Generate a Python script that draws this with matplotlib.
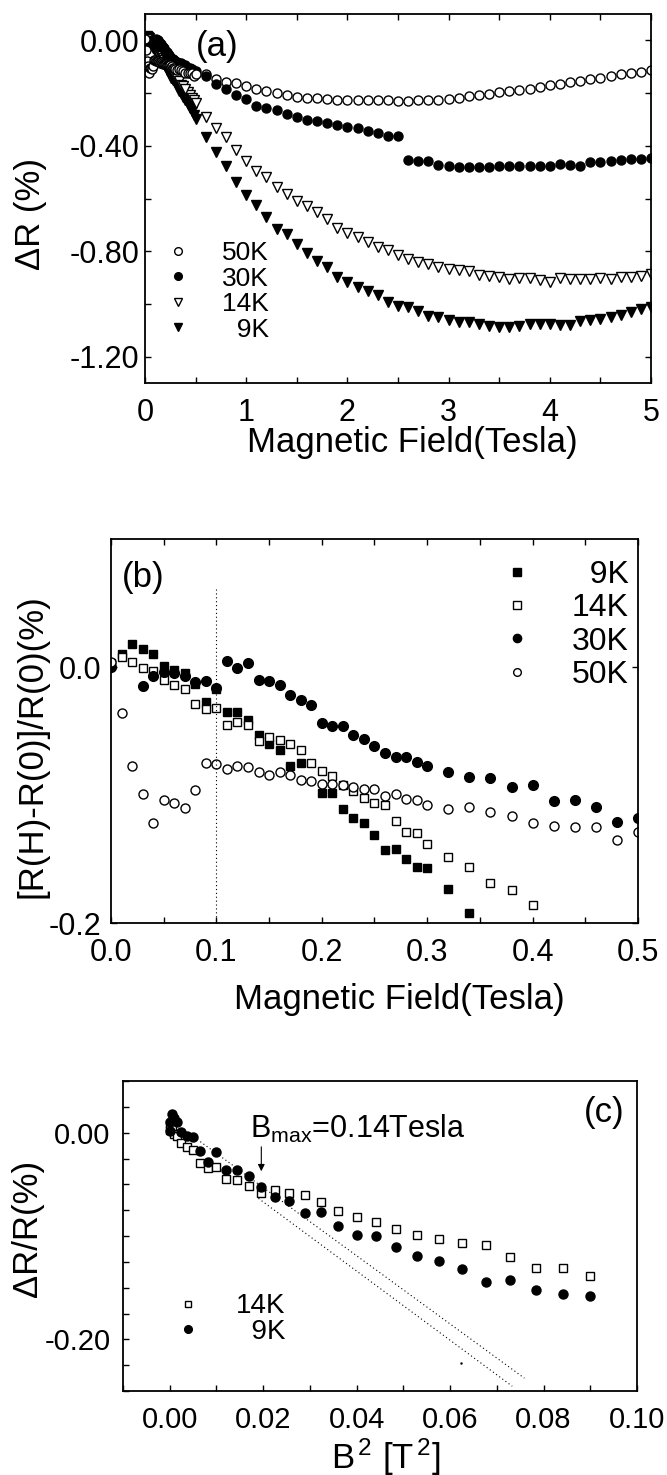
import matplotlib
matplotlib.use("Agg")
import matplotlib.pyplot as plt
from matplotlib.ticker import MultipleLocator, FixedLocator, FormatStrFormatter

plt.rcParams["font.family"] = ["Liberation Sans", "DejaVu Sans"]
plt.rcParams["axes.unicode_minus"] = False
plt.rcParams["mathtext.fontset"] = "custom"
plt.rcParams["mathtext.rm"] = "Liberation Sans"
plt.rcParams["mathtext.it"] = "Liberation Sans:italic"
plt.rcParams["mathtext.bf"] = "Liberation Sans:bold"

# ---------------------------------------------------------------------------
# Panel (b): low-field data, delta R / R(0) in %
# ---------------------------------------------------------------------------
b_9k_B = [0.00, 0.01, 0.02, 0.03, 0.04, 0.05, 0.06, 0.07, 0.08, 0.09, 0.10,
          0.11, 0.12, 0.13, 0.14, 0.15, 0.16, 0.17, 0.18, 0.20, 0.21, 0.22,
          0.23, 0.24, 0.25, 0.26, 0.27, 0.28, 0.29, 0.30, 0.32, 0.34]
b_9k = [0.002, 0.010, 0.018, 0.014, 0.010, 0.001, -0.002, -0.005, -0.013,
        -0.027, -0.017, -0.035, -0.035, -0.041, -0.053, -0.060, -0.065,
        -0.077, -0.075, -0.098, -0.098, -0.111, -0.118, -0.122, -0.131,
        -0.143, -0.142, -0.150, -0.156, -0.157, -0.173, -0.192]

b_14k_B = [0.00, 0.01, 0.02, 0.03, 0.04, 0.05, 0.06, 0.07, 0.08, 0.09, 0.10,
           0.11, 0.12, 0.13, 0.14, 0.15, 0.16, 0.17, 0.18, 0.19, 0.20, 0.21,
           0.22, 0.23, 0.24, 0.25, 0.26, 0.27, 0.28, 0.29, 0.30, 0.32, 0.34,
           0.36, 0.38, 0.40]
b_14k = [0.003, 0.008, 0.004, -0.001, -0.003, -0.010, -0.014, -0.017, -0.029,
         -0.033, -0.032, -0.045, -0.043, -0.045, -0.058, -0.055, -0.057,
         -0.060, -0.065, -0.075, -0.081, -0.085, -0.092, -0.097, -0.102,
         -0.106, -0.108, -0.120, -0.129, -0.130, -0.138, -0.148, -0.156,
         -0.169, -0.174, -0.186]

b_30k_B = [0.00, 0.03, 0.04, 0.05, 0.06, 0.07, 0.08, 0.09, 0.10, 0.11, 0.12,
           0.13, 0.14, 0.15, 0.16, 0.17, 0.18, 0.19, 0.20, 0.21, 0.22, 0.23,
           0.24, 0.25, 0.26, 0.27, 0.28, 0.29, 0.30, 0.32, 0.34, 0.36, 0.38,
           0.40, 0.42, 0.44, 0.46, 0.48, 0.50]
b_30k = [0.000, -0.015, -0.007, -0.004, -0.005, -0.007, -0.012, -0.011,
         -0.016, 0.005, -0.001, 0.003, -0.010, -0.011, -0.014, -0.022, -0.026,
         -0.030, -0.044, -0.046, -0.046, -0.053, -0.056, -0.062, -0.067,
         -0.070, -0.070, -0.074, -0.077, -0.082, -0.086, -0.087, -0.094,
         -0.092, -0.105, -0.104, -0.109, -0.121, -0.118]

b_50k_B = [0.00, 0.01, 0.02, 0.03, 0.04, 0.05, 0.06, 0.07, 0.08, 0.09, 0.10,
           0.11, 0.12, 0.13, 0.14, 0.15, 0.16, 0.17, 0.18, 0.19, 0.20, 0.21,
           0.22, 0.23, 0.24, 0.25, 0.26, 0.27, 0.28, 0.29, 0.30, 0.32, 0.34,
           0.36, 0.38, 0.40, 0.42, 0.44, 0.46, 0.48, 0.50]
b_50k = [0.004, -0.036, -0.077, -0.099, -0.122, -0.104, -0.106, -0.110,
         -0.096, -0.075, -0.076, -0.080, -0.077, -0.078, -0.082, -0.084,
         -0.082, -0.084, -0.088, -0.089, -0.091, -0.091, -0.092, -0.094,
         -0.095, -0.095, -0.101, -0.099, -0.103, -0.104, -0.108, -0.111,
         -0.109, -0.113, -0.116, -0.122, -0.124, -0.125, -0.125, -0.135,
         -0.129]

# ---------------------------------------------------------------------------
# Panel (a): high-field part (low-field part is the panel (b) data)
# ---------------------------------------------------------------------------
a_B = [0.6, 0.7, 0.8, 0.9, 1.0, 1.1, 1.2, 1.3, 1.4, 1.5, 1.6, 1.7, 1.8, 1.9,
       2.0, 2.1, 2.2, 2.3, 2.4, 2.5, 2.6, 2.7, 2.8, 2.9, 3.0, 3.1, 3.2, 3.3,
       3.4, 3.5, 3.6, 3.7, 3.8, 3.9, 4.0, 4.1, 4.2, 4.3, 4.4, 4.5, 4.6, 4.7,
       4.8, 4.9, 5.0]
a_50k = [-0.129, -0.147, -0.157, -0.163, -0.172, -0.186, -0.192, -0.200,
         -0.207, -0.213, -0.218, -0.220, -0.223, -0.225, -0.226, -0.226,
         -0.227, -0.228, -0.228, -0.229, -0.229, -0.226, -0.228, -0.226,
         -0.222, -0.218, -0.211, -0.208, -0.204, -0.197, -0.192, -0.189,
         -0.184, -0.177, -0.171, -0.165, -0.159, -0.154, -0.148, -0.142,
         -0.135, -0.129, -0.124, -0.119, -0.111]
a_30k = [-0.135, -0.166, -0.185, -0.208, -0.223, -0.248, -0.257, -0.265,
         -0.280, -0.289, -0.301, -0.305, -0.315, -0.320, -0.327, -0.332,
         -0.342, -0.351, -0.361, -0.361, -0.453, -0.456, -0.458, -0.471,
         -0.477, -0.480, -0.479, -0.480, -0.480, -0.477, -0.476, -0.476,
         -0.476, -0.476, -0.475, -0.470, -0.472, -0.475, -0.463, -0.462,
         -0.459, -0.453, -0.449, -0.449, -0.447]
a_14k_low_B = [0.42, 0.44, 0.46, 0.48, 0.50]
a_14k_low = [-0.196, -0.207, -0.218, -0.228, -0.238]
a_14k = [-0.289, -0.332, -0.367, -0.414, -0.459, -0.494, -0.519, -0.557,
         -0.582, -0.608, -0.627, -0.652, -0.677, -0.711, -0.732, -0.747,
         -0.766, -0.785, -0.797, -0.816, -0.829, -0.842, -0.848, -0.861,
         -0.867, -0.873, -0.876, -0.889, -0.894, -0.899, -0.905, -0.901,
         -0.901, -0.909, -0.918, -0.901, -0.905, -0.905, -0.905, -0.901,
         -0.905, -0.896, -0.896, -0.892, -0.886]
a_9k_low_B = [0.36, 0.38, 0.40, 0.42, 0.44, 0.46, 0.48, 0.50]
a_9k_low = [-0.200, -0.214, -0.228, -0.242, -0.255, -0.268, -0.282, -0.297]
a_9k = [-0.367, -0.424, -0.477, -0.538, -0.586, -0.623, -0.671, -0.715,
        -0.734, -0.772, -0.806, -0.838, -0.861, -0.896, -0.915, -0.937,
        -0.949, -0.966, -0.991, -1.006, -1.013, -1.025, -1.044, -1.051,
        -1.059, -1.070, -1.070, -1.076, -1.082, -1.086, -1.089, -1.082,
        -1.076, -1.076, -1.076, -1.078, -1.078, -1.066, -1.061, -1.057,
        -1.051, -1.041, -1.032, -1.019, -1.010]

# ---------------------------------------------------------------------------
# Panel (c): delta R / R versus B^2
# ---------------------------------------------------------------------------
c_B2 = [0.0, 0.0001, 0.0004, 0.0009, 0.0016, 0.0025, 0.0036, 0.0049, 0.0064,
        0.0081, 0.0100, 0.0121, 0.0144, 0.0169, 0.0196, 0.0225, 0.0256,
        0.0289, 0.0324, 0.0361, 0.0400, 0.0441, 0.0484, 0.0529, 0.0576,
        0.0625, 0.0676, 0.0729, 0.0784, 0.0841, 0.0900]
c_14k = [0.003, 0.008, 0.004, -0.001, -0.003, -0.010, -0.014, -0.017, -0.029,
         -0.034, -0.033, -0.045, -0.046, -0.052, -0.058, -0.055, -0.058,
         -0.060, -0.067, -0.076, -0.082, -0.086, -0.093, -0.099, -0.103,
         -0.107, -0.109, -0.120, -0.131, -0.131, -0.139]
c_9k = [0.002, 0.010, 0.018, 0.014, 0.010, 0.001, -0.003, -0.004, -0.018,
        -0.028, -0.019, -0.036, -0.036, -0.042, -0.053, -0.062, -0.066,
        -0.078, -0.077, -0.090, -0.099, -0.100, -0.111, -0.119, -0.124,
        -0.132, -0.144, -0.143, -0.152, -0.156, -0.158]
fit1_x, fit1_y = [0.0052, 0.0759], [-0.0042, -0.2375]
fit2_x, fit2_y = [0.0190, 0.0733], [-0.0636, -0.2453]
B_MAX = 0.14

TICK_FS = 22
LABEL_FS = 25
DOT = (0, (1, 2.5))
OPEN = dict(mfc="white", mec="k", mew=1, ls="none")
FULL = dict(color="k", ls="none")


def frame(ax, lw=1.3):
    for sp in ax.spines.values():
        sp.set_linewidth(lw)


fig = plt.figure(figsize=(6.67, 14.75), dpi=100)

# ---------------------------------------------------------------------------
# (a)
# ---------------------------------------------------------------------------
ax = fig.add_axes([0.2174, 0.7403, 0.7586, 0.2502])
frame(ax)
ax.plot(a_9k_low_B, a_9k_low, "v", ms=6.5, **FULL)
ax.plot(b_9k_B, b_9k, "v", ms=6.5, **FULL)
ax.plot(a_14k_low_B, a_14k_low, "v", ms=6.5, **OPEN)
ax.plot(b_14k_B, b_14k, "v", ms=6.5, **OPEN)
ax.plot(b_30k_B, b_30k, "o", ms=6.5, **FULL)
ax.plot(b_50k_B, b_50k, "o", ms=6.5, **OPEN)
h50, = ax.plot(a_B, a_50k, "o", ms=6.5, **OPEN)
h30, = ax.plot(a_B, a_30k, "o", ms=6.5, **FULL)
h14, = ax.plot(a_B, a_14k, "v", ms=6.5, **OPEN)
h9, = ax.plot(a_B, a_9k, "v", ms=6.5, **FULL)
ax.set_xlim(0, 5)
ax.set_ylim(-1.30, 0.10)
ax.xaxis.set_major_locator(MultipleLocator(1))
ax.xaxis.set_minor_locator(MultipleLocator(0.5))
ax.yaxis.set_major_locator(MultipleLocator(0.4))
ax.yaxis.set_minor_locator(MultipleLocator(0.2))
ax.yaxis.set_major_formatter(FormatStrFormatter("%.2f"))
ax.tick_params(which="both", direction="in", top=True, right=True,
               length=4, width=1)
ax.tick_params(axis="x", labelsize=TICK_FS, pad=11)
ax.tick_params(axis="y", labelsize=TICK_FS, pad=4)
ax.set_xlabel("Magnetic Field(Tesla)", fontsize=LABEL_FS)
ax.xaxis.set_label_coords(0.528, -0.16)
ax.xaxis.label.set_va("center")
ax.set_ylabel("ΔR (%)", fontsize=LABEL_FS)
ax.yaxis.set_label_coords(-0.227, 0.458)
ax.yaxis.label.set_va("center")
ax.text(0.142, 0.911, "(a)", transform=ax.transAxes, fontsize=25,
        ha="center", va="center")
ax.legend([h50, h30, h14, h9], ["50K", "30K", "14K", "  9K"],
          loc="upper left", bbox_to_anchor=(0.040, 0.385), frameon=False,
          fontsize=19, handlelength=1.0, handletextpad=1.15,
          labelspacing=0.06, borderpad=0, borderaxespad=0, markerscale=0.85)

# ---------------------------------------------------------------------------
# (b)
# ---------------------------------------------------------------------------
ax = fig.add_axes([0.1664, 0.3742, 0.7901, 0.2603])
frame(ax)
k9, = ax.plot(b_9k_B, b_9k, "s", ms=6, **FULL)
k14, = ax.plot(b_14k_B, b_14k, "s", ms=6, **OPEN)
k30, = ax.plot(b_30k_B, b_30k, "o", ms=7, **FULL)
k50, = ax.plot(b_50k_B, b_50k, "o", ms=6.5, **OPEN)
ax.plot([0.1, 0.1], [0.061, -0.2], color="k", lw=0.8, ls=DOT)
ax.set_xlim(0, 0.5)
ax.set_ylim(-0.2, 0.1)
ax.xaxis.set_major_locator(MultipleLocator(0.1))
ax.xaxis.set_minor_locator(MultipleLocator(0.05))
ax.yaxis.set_major_locator(FixedLocator([-0.2, 0.0]))
ax.xaxis.set_major_formatter(FormatStrFormatter("%.1f"))
ax.yaxis.set_major_formatter(FormatStrFormatter("%.1f"))
ax.tick_params(which="both", direction="in", top=True, right=True,
               length=4, width=1)
ax.tick_params(axis="x", labelsize=TICK_FS, pad=11)
ax.tick_params(axis="y", labelsize=TICK_FS, pad=7)
ax.set_xlabel("Magnetic Field(Tesla)", fontsize=LABEL_FS)
ax.xaxis.set_label_coords(0.548, -0.20)
ax.xaxis.label.set_va("center")
ax.set_ylabel("[R(H)-R(0)]/R(0)(%)", fontsize=LABEL_FS)
ax.yaxis.set_label_coords(-0.150, 0.461)
ax.yaxis.label.set_va("center")
ax.text(0.061, 0.901, "(b)", transform=ax.transAxes, fontsize=25,
        ha="center", va="center")
ax.legend([k9, k14, k30, k50], ["  9K", "14K", "30K", "50K"],
          loc="upper left", bbox_to_anchor=(0.741, 0.945), frameon=False,
          fontsize=23, handlelength=1.0, handletextpad=1.2,
          labelspacing=0.1, borderpad=0, borderaxespad=0, markerscale=0.85)

# ---------------------------------------------------------------------------
# (c)
# ---------------------------------------------------------------------------
ax = fig.add_axes([0.1844, 0.0569, 0.7706, 0.2102])
frame(ax)
ax.plot(fit1_x, fit1_y, color="k", lw=0.8, ls=DOT)
ax.plot(fit2_x, fit2_y, color="k", lw=0.8, ls=DOT)
ax.plot([0.0624], [-0.223], ".", color="k", ms=1.5)
m14, = ax.plot(c_B2, c_14k, "s", ms=5.5, **OPEN)
m9, = ax.plot(c_B2, c_9k, "o", ms=6.5, **FULL)
ax.annotate("", xy=(B_MAX ** 2, -0.040), xytext=(B_MAX ** 2, -0.011),
            arrowprops=dict(arrowstyle="-|>", color="k", lw=0.8,
                            mutation_scale=10))
ax.text(0.0172, 0.004, r"B$_{\mathrm{max}}$=0.14Tesla", fontsize=22,
        ha="left", va="center")
ax.set_xlim(-0.01, 0.10)
ax.set_ylim(-0.25, 0.05)
ax.xaxis.set_major_locator(MultipleLocator(0.02))
ax.xaxis.set_minor_locator(MultipleLocator(0.01))
ax.yaxis.set_major_locator(FixedLocator([-0.2, 0.0]))
ax.yaxis.set_minor_locator(MultipleLocator(0.025))
ax.xaxis.set_major_formatter(FormatStrFormatter("%.2f"))
ax.yaxis.set_major_formatter(FormatStrFormatter("%.2f"))
ax.tick_params(which="both", direction="in", length=4, width=1)
ax.tick_params(axis="x", labelsize=21, pad=11)
ax.tick_params(axis="y", labelsize=21, pad=9)
ax.set_xlabel(r"B$^{\,2}$ [T$^{\,2}$]", fontsize=LABEL_FS)
ax.xaxis.set_label_coords(0.512, -0.213)
ax.xaxis.label.set_va("center")
ax.set_ylabel("ΔR/R(%)", fontsize=LABEL_FS)
ax.yaxis.set_label_coords(-0.185, 0.523)
ax.yaxis.label.set_va("center")
ax.text(0.936, 0.897, "(c)", transform=ax.transAxes, fontsize=25,
        ha="center", va="center")
ax.legend([m14, m9], ["14K", "  9K"],
          loc="upper left", bbox_to_anchor=(0.10, 0.315), frameon=False,
          fontsize=20, handlelength=1.0, handletextpad=1.2,
          labelspacing=-0.03, borderpad=0, borderaxespad=0, markerscale=0.85)

fig.savefig("out.png", dpi=100)
